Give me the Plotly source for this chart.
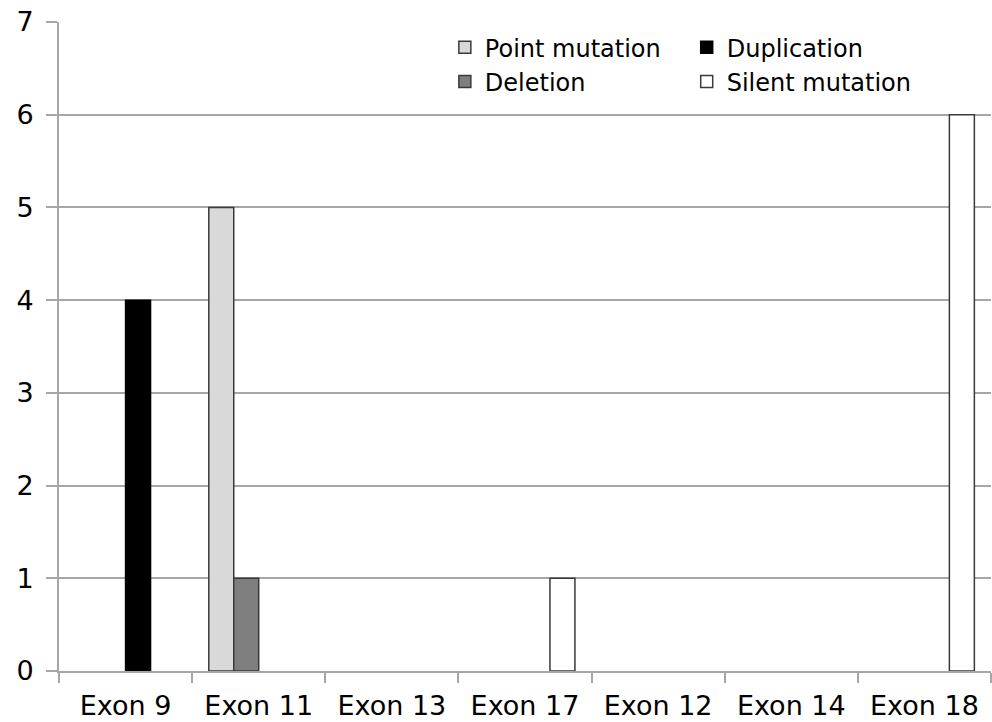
import plotly.graph_objects as go

categories = ["Exon 9", "Exon 11", "Exon 13", "Exon 17", "Exon 12", "Exon 14", "Exon 18"]
point_mutation = [0, 5, 0, 0, 0, 0, 0]
deletion = [0, 1, 0, 0, 0, 0, 0]
duplication = [4, 0, 0, 0, 0, 0, 0]
silent_mutation = [0, 0, 0, 1, 0, 0, 6]
y_ticks = [0, 1, 2, 3, 4, 5, 6, 7]

FONT = "DejaVu Sans"
OUTLINE = "#3a3a3a"
GRID = "#a6a6a6"

fig = go.Figure()
series = [
    ("Point mutation", point_mutation, "#d9d9d9", OUTLINE, "legend"),
    ("Deletion", deletion, "#7f7f7f", OUTLINE, "legend"),
    ("Duplication", duplication, "#000000", "#000000", "legend2"),
    ("Silent mutation", silent_mutation, "#ffffff", OUTLINE, "legend2"),
]
for name, vals, color, line, lg in series:
    fig.add_trace(go.Bar(
        x=categories, y=[v if v else None for v in vals], name=name,
        marker=dict(color=color, line=dict(color=line, width=1.5)),
        legend=lg,
    ))

fig.update_layout(
    template="none",
    width=992, height=722,
    margin=dict(l=59, r=1, t=22, b=51, autoexpand=False),
    paper_bgcolor="white", plot_bgcolor="white",
    barmode="group", bargap=0.25, bargroupgap=0,
    font=dict(family=FONT, size=24, color="#000000"),
    legend=dict(x=0.414, y=0.995, xanchor="left", yanchor="top",
                bgcolor="rgba(0,0,0,0)", font=dict(size=24),
                tracegroupgap=0, itemclick=False),
    legend2=dict(x=0.6735, y=0.995, xanchor="left", yanchor="top",
                 bgcolor="rgba(0,0,0,0)", font=dict(size=24),
                 tracegroupgap=0, itemclick=False),
    showlegend=True,
)
fig.update_xaxes(
    type="category", showline=True, linecolor=GRID, linewidth=2,
    ticks="outside", tickson="boundaries", ticklen=10, tickcolor=GRID, tickwidth=2,
    tickfont=dict(size=27, family=FONT, color="#000000"),
    showgrid=False, zeroline=False, automargin=False,
    ticklabelstandoff=10,
)
fig.update_yaxes(
    range=[0, 7], tickvals=y_ticks, showline=True, linecolor=GRID, linewidth=2,
    ticks="outside", ticklen=11, tickcolor=GRID, tickwidth=2,
    tickfont=dict(size=27, family=FONT, color="#000000"),
    showgrid=True, gridcolor=GRID, gridwidth=2, zeroline=False,
    automargin=False, ticklabelstandoff=7,
)

fig.write_html("out.html")
